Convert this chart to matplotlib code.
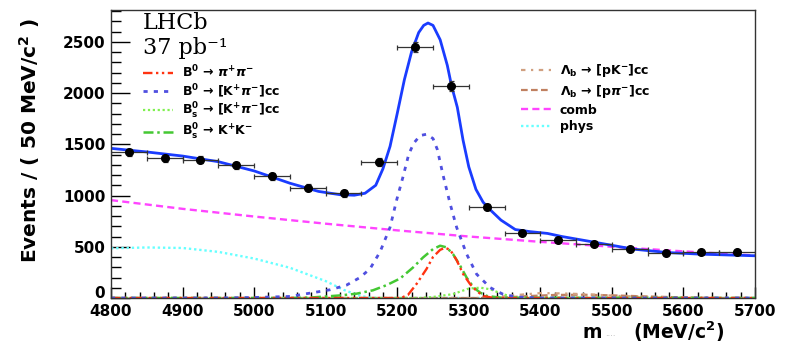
import numpy as np
import matplotlib.pyplot as plt
from matplotlib.ticker import MultipleLocator, FuncFormatter
from matplotlib.lines import Line2D

# data points (bin centres, events per 50 MeV, vertical errors)
bin_centres = [4825, 4875, 4925, 4975, 5025, 5075, 5125, 5175, 5225,
               5275, 5325, 5375, 5425, 5475, 5525, 5575, 5625, 5675]
counts = [1420, 1363, 1350, 1294, 1186, 1075, 1020, 1327, 2450,
          2068, 885, 637, 570, 530, 478, 437, 451, 445]
count_errs = [38, 37, 37, 36, 34, 33, 32, 36, 49, 45, 30, 25, 24, 23, 22, 21, 21, 21]
bin_half = 25

# fitted curves
total_m = [4800, 4850, 4900, 4950, 5000, 5050, 5090, 5120, 5140, 5155, 5170, 5180,
           5190, 5200, 5210, 5220, 5230, 5237, 5243, 5250, 5260, 5270, 5276, 5284,
           5292, 5300, 5310, 5320, 5330, 5345, 5365, 5385, 5410, 5430, 5475, 5530,
           5577, 5623, 5700]
total_y = [1460, 1425, 1385, 1330, 1240, 1120, 1040, 1008, 1003, 1022, 1100, 1260,
           1480, 1800, 2130, 2400, 2590, 2660, 2683, 2660, 2520, 2270, 2068, 1860,
           1540, 1280, 1060, 935, 860, 760, 668, 648, 630, 600, 545, 477,
           444, 428, 412]

comb_m = [4800, 4900, 5000, 5100, 5200, 5300, 5400, 5500, 5600, 5700]
comb_y = [955, 870, 795, 725, 660, 600, 548, 500, 455, 415]

phys_m = [4800, 4850, 4900, 4950, 5000, 5050, 5100, 5125, 5145, 5160, 5175, 5700]
phys_y = [485, 493, 488, 450, 385, 295, 165, 80, 28, 5, 0, 0]

kpi_m = [4800, 4950, 5000, 5050, 5082, 5106, 5129, 5148, 5162, 5176, 5190, 5199,
         5208, 5216, 5223, 5232, 5241, 5250, 5256, 5264, 5274, 5283, 5297, 5311,
         5330, 5348, 5367, 5400, 5700]
kpi_y = [0, 0, 5, 15, 52, 80, 125, 200, 285, 450, 690, 951,
         1180, 1400, 1510, 1585, 1598, 1556, 1450, 1200, 918, 690, 428, 232,
         101, 36, 10, 0, 0]

pipi_m = [4800, 5205, 5215, 5227, 5241, 5250, 5260, 5267, 5274, 5283, 5292, 5302,
          5311, 5320, 5335, 5700]
pipi_y = [0, 0, 30, 137, 284, 400, 470, 490, 470, 370, 235, 134, 69, 20, 0, 0]

kk_m = [4800, 5050, 5080, 5120, 5143, 5166, 5185, 5204, 5222, 5236, 5250, 5260,
        5269, 5278, 5288, 5297, 5307, 5316, 5325, 5345, 5700]
kk_y = [0, 0, 5, 25, 42, 75, 125, 190, 297, 395, 477, 510,
        494, 428, 314, 199, 101, 52, 20, 3, 0]

bskpi_m = [4800, 5230, 5250, 5278, 5300, 5316, 5330, 5348, 5367, 5380, 5700]
bskpi_y = [0, 0, 10, 38, 92, 101, 85, 36, 5, 0, 0]

lbpk_m = [4800, 5330, 5360, 5400, 5430, 5470, 5510, 5560, 5620, 5700]
lbpk_y = [0, 0, 25, 48, 45, 35, 20, 8, 0, 0]

lbppi_m = [4800, 5340, 5380, 5420, 5460, 5500, 5550, 5600, 5660, 5700]
lbppi_y = [0, 0, 18, 30, 32, 26, 15, 6, 0, 0]

plt.rcParams['font.family'] = ['DejaVu Sans']
plt.rcParams['font.weight'] = 'bold'

fig = plt.figure(figsize=(7.94, 3.44), dpi=100)
ax = fig.add_axes([111 / 794, 46 / 344, 644 / 794, 288 / 344])

styles = {
    'pipi': dict(color='#ff3311', ls=(0, (4, 1.5, 1, 1.5, 1, 1.5)), lw=1.7),
    'kpi': dict(color='#4f4fe0', ls=(0, (1.5, 2.2)), lw=2.0),
    'bskpi': dict(color='#80f050', ls=(0, (1, 1.2)), lw=1.6),
    'kk': dict(color='#44c833', ls=(0, (4, 1.5, 1, 1.5)), lw=1.8),
    'lbpk': dict(color='#d0a080', ls=(0, (2, 2.5, 1, 2.5)), lw=1.6),
    'lbppi': dict(color='#c08060', ls=(0, (3, 1.5)), lw=1.6),
    'comb': dict(color='#ff44ff', ls=(0, (3, 1.8)), lw=1.7),
    'phys': dict(color='#66ffff', ls=(0, (1, 1.2)), lw=1.7),
}

ax.plot(phys_m, phys_y, **styles['phys'])
ax.plot(comb_m, comb_y, **styles['comb'])
ax.plot(lbppi_m, lbppi_y, **styles['lbppi'])
ax.plot(lbpk_m, lbpk_y, **styles['lbpk'])
ax.plot(bskpi_m, bskpi_y, **styles['bskpi'])
ax.plot(kk_m, kk_y, **styles['kk'])
ax.plot(pipi_m, pipi_y, **styles['pipi'])
ax.plot(kpi_m, kpi_y, **styles['kpi'])
ax.plot(total_m, total_y, color='#1a3cff', lw=2.0, solid_capstyle='round',
        solid_joinstyle='round')

ax.errorbar(bin_centres, counts, xerr=bin_half, yerr=count_errs, fmt='o',
            color='black', ecolor='#333333', elinewidth=0.9, capsize=1.8,
            capthick=0.9, markersize=5.5, zorder=5)

ax.set_xlim(4800, 5700)
ax.set_ylim(0, 2810)
ax.xaxis.set_major_locator(MultipleLocator(100))
ax.xaxis.set_minor_locator(MultipleLocator(20))
ax.yaxis.set_major_locator(MultipleLocator(500))
ax.yaxis.set_minor_locator(MultipleLocator(100))
# the "0" is drawn separately, a little higher, so it clears "4800"
ax.yaxis.set_major_formatter(FuncFormatter(lambda v, p: '' if v == 0 else f'{v:.0f}'))
ax.tick_params(axis='x', which='major', direction='in', length=8, width=1, labelsize=11, pad=4)
ax.tick_params(axis='x', which='minor', direction='in', length=4, width=1)
ax.tick_params(axis='y', which='major', direction='in', length=14, width=1, labelsize=11, pad=4)
ax.tick_params(axis='y', which='minor', direction='in', length=7, width=1)
for s in ax.spines.values():
    s.set_color('#333333')
    s.set_linewidth(1)

ax.annotate('0', xy=(0, 0), xycoords=('axes fraction', 'data'), xytext=(-4.3, 3),
            textcoords='offset points', ha='right', va='center', fontsize=11,
            fontweight='bold', annotation_clip=False)

# axis titles
fig.text(30 / 794, 1 - 141 / 344, 'Events / ( 50 MeV/c$^{\\mathbf{2}}$ )', rotation=90,
         ha='center', va='center', fontsize=14.5, fontweight='bold')
fig.text(583 / 794, 1 - 332 / 344, 'm', ha='left', va='center', fontsize=13.5, fontweight='bold')
fig.text(605 / 794, 1 - 334 / 344, '....', ha='left', va='center', fontsize=6, color='#aaaaaa',
         fontweight='normal')
fig.text(633 / 794, 1 - 332 / 344, '(MeV/c$^{\\mathbf{2}}$)', ha='left', va='center',
         fontsize=13.5, fontweight='bold')

fig.text(143 / 794, 1 - 23 / 344, 'LHCb', ha='left', va='center', fontsize=16,
         family='DejaVu Serif', fontweight='normal')
fig.text(143 / 794, 1 - 48 / 344, '37 pb⁻¹', ha='left', va='center', fontsize=16,
         family='DejaVu Serif', fontweight='normal')

# legends
left_keys = ['pipi', 'kpi', 'bskpi', 'kk']
left_labels = [r'$\mathbf{B^{0}}$ → $\pi^{+}\pi^{-}$',
               r'$\mathbf{B^{0}}$ → [K$^{+}\pi^{-}$]cc',
               r'$\mathbf{B^{0}_{s}}$ → [K$^{+}\pi^{-}$]cc',
               r'$\mathbf{B^{0}_{s}}$ → K$^{+}$K$^{-}$']
right_keys = ['lbpk', 'lbppi', 'comb', 'phys']
right_labels = [r'$\Lambda_{\mathbf{b}}$ → [pK$^{-}$]cc',
                r'$\Lambda_{\mathbf{b}}$ → [p$\pi^{-}$]cc',
                'comb', 'phys']

def handles(keys):
    return [Line2D([], [], **styles[k]) for k in keys]

leg_opts = dict(frameon=False, loc='upper left', bbox_transform=fig.transFigure,
                borderpad=0, borderaxespad=0, handlelength=2.4, handletextpad=0.7,
                prop=dict(size=9, weight='bold'))
leg1 = ax.legend(handles(left_keys), left_labels, labelspacing=0.1,
                 bbox_to_anchor=(143 / 794, 1 - 64 / 344), **leg_opts)
ax.add_artist(leg1)
ax.legend(handles(right_keys), right_labels, labelspacing=0.3,
          bbox_to_anchor=(521 / 794, 1 - 62 / 344), **leg_opts)

fig.savefig('out.png', dpi=100)
